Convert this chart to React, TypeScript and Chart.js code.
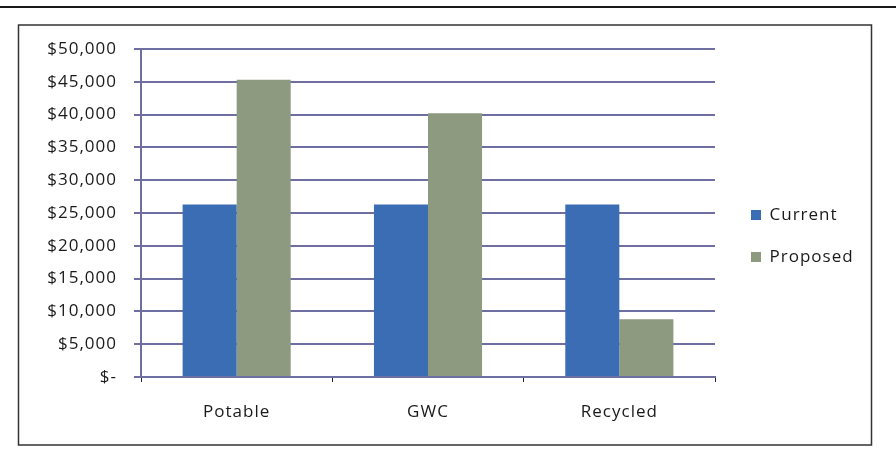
import React, { useEffect, useRef } from "react";
import { Chart, registerables } from "chart.js";

Chart.register(...registerables);

const categories = ["Potable", "GWC", "Recycled"];
const currentValues = [26300, 26300, 26300];
const proposedValues = [45300, 40200, 8800];
const seriesNames = ["Current", "Proposed"];
const yMin = 0;
const yMax = 50000;
const yStep = 5000;

const FONT = "'Open Sans', 'DejaVu Sans', sans-serif";

const spacingPlugin = {
  id: "spacing",
  beforeUpdate(chart: any) {
    chart.ctx.letterSpacing = "1px";
  },
  beforeLayout(chart: any) {
    chart.ctx.letterSpacing = "1px";
  },
};

const framePlugin = {
  id: "frame",
  beforeDraw(chart: any) {
    const ctx = chart.ctx;
    ctx.letterSpacing = "1px";
    ctx.save();
    ctx.fillStyle = "#ffffff";
    ctx.fillRect(0, 0, chart.width, chart.height);
    ctx.strokeStyle = "#1a1a1a";
    ctx.lineWidth = 2;
    ctx.beginPath();
    ctx.moveTo(0, 7);
    ctx.lineTo(chart.width, 7);
    ctx.stroke();
    ctx.strokeStyle = "#333333";
    ctx.lineWidth = 1.5;
    ctx.strokeRect(18.5, 25, 853, 420);
    ctx.restore();
  },
};

function fmt(v: number) {
  if (v === 0) return "$-";
  return "$" + v.toLocaleString("en-US");
}

export default function App() {
  const ref = useRef<HTMLCanvasElement | null>(null);
  useEffect(() => {
    document.body.style.margin = "0";
    const canvas = ref.current!;
    const chart = new Chart(canvas, {
      type: "bar",
      data: {
        labels: categories,
        datasets: [
          {
            label: seriesNames[0],
            data: currentValues,
            backgroundColor: "#3b6db4",
            yAxisID: "y",
          },
          {
            label: seriesNames[1],
            data: proposedValues,
            backgroundColor: "#8e9a80",
            yAxisID: "y",
          },
        ],
      },
      options: {
        animation: false,
        responsive: false,
        maintainAspectRatio: false,
        devicePixelRatio: 1,
        layout: { padding: { left: 0, top: 49, right: 34, bottom: 40 } },
        datasets: {
          bar: { categoryPercentage: 0.565, barPercentage: 1.0 },
        },
        scales: {
          x: {
            grid: {
              display: true,
              drawOnChartArea: false,
              drawTicks: true,
              tickLength: 5,
              color: "#222244",
              offset: true,
            },
            border: { display: true, color: "#6e6ea0", width: 2 },
            ticks: {
              color: "#1a1a1a",
              font: { family: FONT, size: 17 },
              padding: 20,
            },
            afterFit(s: any) {
              s.height = 46;
            },
          },
          y: {
            min: yMin,
            max: yMax,
            grid: {
              color: "#6e6ea0",
              lineWidth: 2,
              tickLength: 7,
            },
            border: { display: true, color: "#6e6ea0", width: 2 },
            ticks: {
              stepSize: yStep,
              color: "#1a1a1a",
              font: { family: FONT, size: 17 },
              padding: 17,
              callback: (v: any) => fmt(Number(v)),
            },
            afterFit(s: any) {
              s.width = 141;
            },
          },
          yR: {
            position: "right",
            display: true,
            grid: { display: false },
            border: { display: false },
            ticks: { display: false },
            afterFit(s: any) {
              s.width = 11;
            },
          },
        },
        plugins: {
          legend: {
            position: "right",
            maxWidth: 136,
            labels: {
              boxWidth: 10,
              boxHeight: 10,
              padding: 25,
              color: "#1a1a1a",
              font: { family: FONT, size: 17 },
            },
          },
          tooltip: { enabled: false },
        },
      },
      plugins: [spacingPlugin, framePlugin],
    });
    return () => chart.destroy();
  }, []);
  return (
    <div style={{ position: "absolute", left: 0, top: 0, width: 896, height: 463 }}>
      <canvas ref={ref} width={896} height={463} style={{ width: 896, height: 463 }} />
    </div>
  );
}
